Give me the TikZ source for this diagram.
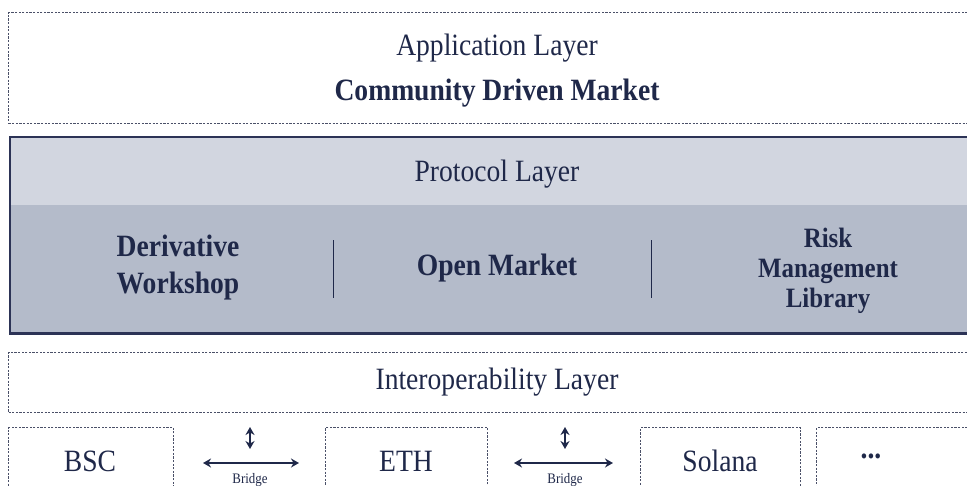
\documentclass[tikz,border=0pt]{standalone}
\usepackage{fontspec}
\setmainfont{Liberation Serif}[FakeStretch=0.89]
\usetikzlibrary{arrows.meta}
\definecolor{ink}{HTML}{1F2849}
\definecolor{dashc}{HTML}{4A5068}
\definecolor{bandlight}{HTML}{D2D6E0}
\definecolor{banddark}{HTML}{B4BBCA}
\definecolor{framec}{HTML}{2C3356}
\begin{document}
\begin{tikzpicture}[x=1pt,y=-1pt,
  dbox/.style={draw=dashc, line width=1.2pt, dash pattern=on 2.2pt off 1.4pt, inner sep=0pt, anchor=north west},
  lbl/.style={text=ink, font=\fontsize{31}{34}\selectfont, inner sep=0pt},
  blbl/.style={text=ink, font=\fontsize{31}{37}\selectfont\bfseries, inner sep=0pt, align=center},
  small/.style={text=ink, font=\fontsize{14.5}{16}\selectfont, inner sep=0pt},
  dbl/.style={ink, line width=2.2pt, {Stealth[length=8pt,width=9pt]}-{Stealth[length=8pt,width=9pt]}},
  sep/.style={ink, line width=1pt}]
\useasboundingbox (0,0) rectangle (967,485);
\clip (0,0) rectangle (967,485);
\fill[white] (0,0) rectangle (967,485);
% application layer
\node[dbox, minimum width=1000pt, minimum height=111pt] (app) at (8,12) {};
\node[lbl] (apptitle) at (497,48) {Application Layer};
\node[blbl] (cdm) at (497,93) {Community Driven Market};
% protocol layer
\node[fill=banddark, inner sep=0pt, anchor=north west, minimum width=1000pt, minimum height=196pt] (proto) at (10,137) {};
\fill[bandlight] (proto.north west) rectangle ([yshift=-68pt]proto.north east);
\draw[framec, line width=2.6pt] (proto.north west) rectangle (proto.south east);
\node[lbl] (prototitle) at (497,174) {Protocol Layer};
\node[blbl] (dw) at (178,268) {Derivative\\Workshop};
\node[blbl] (om) at (497,268) {Open Market};
\node[blbl, font=\fontsize{28}{30}\selectfont\bfseries] (rml) at (828,271) {Risk\\Management\\Library};
\coordinate (s1a) at (333,240); \coordinate (s1b) at (333,298);
\coordinate (s2a) at (651,240); \coordinate (s2b) at (651,298);
\draw[sep] (s1a) -- (s1b);
\draw[sep] (s2a) -- (s2b);
% interoperability layer
\node[dbox, minimum width=1000pt, minimum height=60pt] (interop) at (8,352) {};
\node[lbl] (interoptitle) at (497,382) {Interoperability Layer};
% chains
\node[dbox, minimum width=165pt, minimum height=100pt] (bscbox) at (8,427) {};
\node[lbl] (bsc) at (90,461) {BSC};
\node[dbox, minimum width=162pt, minimum height=100pt] (ethbox) at (325,427) {};
\node[lbl] (eth) at (406,461) {ETH};
\node[dbox, minimum width=160pt, minimum height=100pt] (solbox) at (640,427) {};
\node[lbl] (sol) at (720,461) {Solana};
\node[dbox, minimum width=200pt, minimum height=100pt] (morebox) at (816,427) {};
\node[lbl, font=\fontsize{31}{34}\selectfont\bfseries] (more) at (871,456) {...};
% bridges
\coordinate (v1t) at (250,427); \coordinate (v1b) at (250,449);
\coordinate (h1l) at (203,463); \coordinate (h1r) at (299,463);
\draw[dbl] (v1t) -- (v1b);
\draw[dbl] (h1l) -- (h1r);
\node[small] (br1) at (250,480) {Bridge};
\coordinate (v2t) at (565,427); \coordinate (v2b) at (565,449);
\coordinate (h2l) at (514,463); \coordinate (h2r) at (613,463);
\draw[dbl] (v2t) -- (v2b);
\draw[dbl] (h2l) -- (h2r);
\node[small] (br2) at (565,480) {Bridge};
\end{tikzpicture}
\end{document}
